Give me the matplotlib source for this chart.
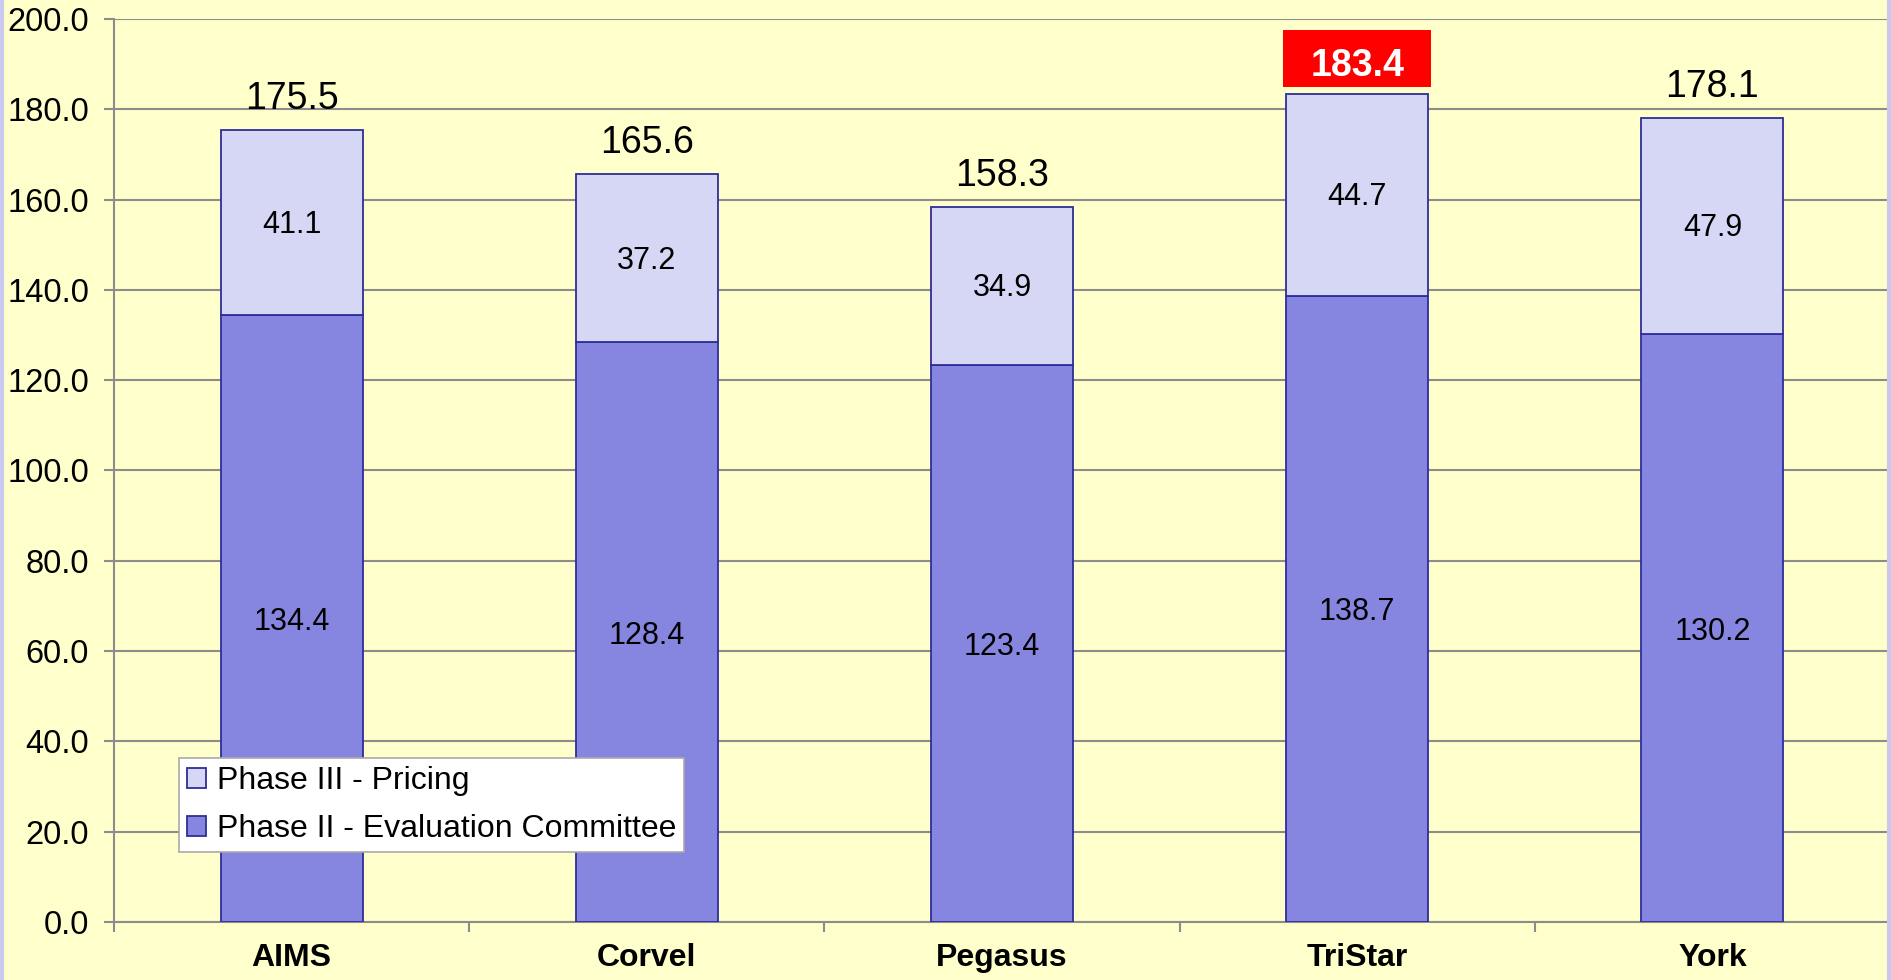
import matplotlib
matplotlib.use("Agg")
import matplotlib.pyplot as plt
from matplotlib.patches import Rectangle
from matplotlib.lines import Line2D
import numpy as np

plt.rcParams["font.family"] = ["Liberation Sans", "DejaVu Sans"]

vendors = ["AIMS", "Corvel", "Pegasus", "TriStar", "York"]
phase2 = [134.4, 128.4, 123.4, 138.7, 130.2]
phase3 = [41.1, 37.2, 34.9, 44.7, 47.9]
totals = [175.5, 165.6, 158.3, 183.4, 178.1]
highlight = "TriStar"
yticks = np.arange(0, 201, 20)

BG = "#FFFFCC"
C_LOW = "#8686E0"
C_HIGH = "#D6D6F5"
EDGE = "#2E2E9A"
GRID = "#8C8C8C"

fig = plt.figure(figsize=(18.91, 9.80), dpi=100, facecolor=BG)
ax = fig.add_axes([114 / 1891, 1 - 922 / 980, 1776 / 1891, 903 / 980])
ax.set_facecolor(BG)

x = np.arange(len(vendors))
w = 0.4
ax.bar(x, phase2, w, color=C_LOW, edgecolor=EDGE, linewidth=1.3,
       label="Phase II - Evaluation Committee", zorder=3)
ax.bar(x, phase3, w, bottom=phase2, color=C_HIGH, edgecolor=EDGE, linewidth=1.3,
       label="Phase III - Pricing", zorder=3)

for i, (lo, hi, tot) in enumerate(zip(phase2, phase3, totals)):
    ax.text(i, lo / 2 - 0.8, f"{lo:.1f}", ha="center", va="center", fontsize=22, zorder=4)
    ax.text(i, lo + hi / 2 - 0.5, f"{hi:.1f}", ha="center", va="center", fontsize=22, zorder=4)
    if vendors[i] == highlight:
        ax.add_patch(Rectangle((i - 0.208, tot + 1.6), 0.416, 12.6, facecolor="#FF0000",
                               edgecolor="none", zorder=4))
        ax.text(i, tot + 1.6 + 4.7, f"{tot:.1f}", ha="center", va="center", fontsize=27,
                fontweight="bold", color="white", zorder=5)
    else:
        ax.annotate(f"{tot:.1f}", (i, tot), xytext=(0, 15), textcoords="offset points",
                    ha="center", va="baseline", fontsize=27, zorder=4)

ax.set_xlim(-0.5, len(vendors) - 0.5)
ax.set_ylim(0, 200)
ax.set_yticks(yticks)
ax.set_yticklabels([f"{v:.1f}" for v in yticks], fontsize=23.5)
ax.yaxis.grid(True, color=GRID, linewidth=1.5, zorder=0)

ax.set_xticks(x)
ax.set_xticklabels(vendors, fontsize=23, fontweight="bold")
ax.set_xticks(np.arange(len(vendors) + 1) - 0.5, minor=True)
ax.tick_params(axis="x", which="major", length=0, pad=15)
ax.tick_params(axis="x", which="minor", length=7, width=1.5, color=GRID, direction="out")
ax.tick_params(axis="y", length=7, width=1.5, color=GRID, direction="out", pad=11)

for s in ["top", "right"]:
    ax.spines[s].set_visible(False)
for s in ["left", "bottom"]:
    ax.spines[s].set_color(GRID)
    ax.spines[s].set_linewidth(1.5)

handles, labels = ax.get_legend_handles_labels()
leg = ax.legend(handles[::-1], labels[::-1], loc="lower left", bbox_to_anchor=(0.0364, 0.0775),
                borderaxespad=0, fontsize=23, fancybox=False, framealpha=1,
                edgecolor="#AAAAAA", handlelength=0.6, handleheight=0.6,
                handletextpad=0.35, labelspacing=0.55, borderpad=0.25)
leg.get_frame().set_linewidth(1.2)
leg.set_zorder(6)

# thin lavender strips at the figure edges
fig.add_artist(Line2D([0.0008, 0.0008], [0, 1], color="#C8C8F0", linewidth=3, transform=fig.transFigure))
fig.add_artist(Line2D([0.9992, 0.9992], [0, 1], color="#C8C8F0", linewidth=3, transform=fig.transFigure))

fig.savefig("out.png", dpi=100, facecolor=BG)
